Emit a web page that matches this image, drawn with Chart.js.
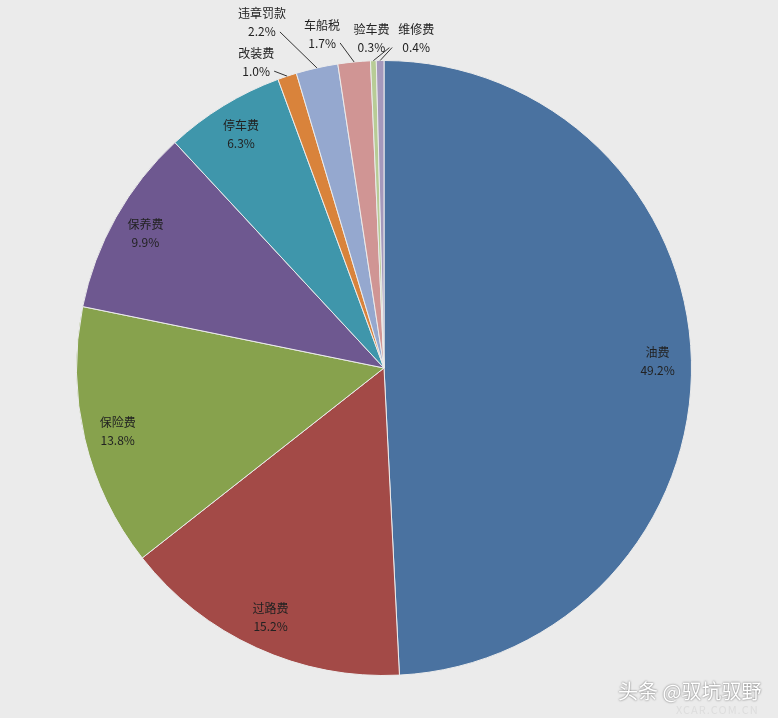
<!DOCTYPE html>
<html><head><meta charset="utf-8">
<script src="https://cdn.jsdelivr.net/npm/chart.js@4"></script>
<style>html,body{margin:0;padding:0;background:#ebebeb;overflow:hidden}
#wrap{position:relative;width:778px;height:718px}
.wm{position:absolute;font-family:"Noto Sans CJK SC";color:#fff}
</style></head><body>
<div id="wrap"><canvas id="c" width="778" height="718"></canvas>
<div class="wm" style="left:618px;top:676px;font-size:20px;text-shadow:0 0 2px #555">头条 @驭坑驭野</div>
<div class="wm" style="left:676px;top:701px;font-size:11px;color:#ddd;letter-spacing:1px">XCAR.COM.CN</div>
</div>
<script>
const categories=["油费","过路费","保险费","保养费","停车费","改装费","违章罚款","车船税","验车费","维修费"];
const values=[49.2,15.2,13.8,9.9,6.3,1.0,2.2,1.7,0.3,0.4];
const colors=["#4a72a0","#a34a47","#87a24d","#6e5890","#3f96ab","#d9833b","#95a8cf","#d09594","#b8cc96","#a599bc"];
// label placement: inside (null) or outside offset from arc edge
const outsideOffsets=[null,null,null,null,null,[-31,-14],[-55,-45],[-32,-28],[-2,-22],[36,-22]];
const labelPlugin={id:'lbl',afterDatasetsDraw(chart){
 const ctx=chart.ctx;const meta=chart.getDatasetMeta(0);
 ctx.save();ctx.font='12px "Noto Sans CJK SC"';ctx.fillStyle='#222';ctx.textAlign='center';ctx.textBaseline='middle';
 meta.data.forEach((arc,i)=>{
  const a=(arc.startAngle+arc.endAngle)/2;const txt=values[i].toFixed(1)+'%';
  const off=outsideOffsets[i];
  if(!off){const r=arc.outerRadius*0.89;const x=arc.x+Math.cos(a)*r,y=arc.y+Math.sin(a)*r;
   ctx.fillText(categories[i],x,y-9);ctx.fillText(txt,x,y+9);}
  else{const ex=arc.x+Math.cos(a)*arc.outerRadius,ey=arc.y+Math.sin(a)*arc.outerRadius;
   const lx=ex+off[0],ly=ey+off[1];
   ctx.fillText(categories[i],lx,ly-9);ctx.fillText(txt,lx,ly+9);
   ctx.strokeStyle='#333';ctx.lineWidth=1;ctx.beginPath();
   const sx=off[0]<0?lx+Math.min(18,Math.abs(off[0])-4):lx-22;
   ctx.moveTo(off[0]<0?lx+18:lx-24,ly+9);ctx.lineTo(ex,ey);ctx.stroke();}
 });ctx.restore();}};
new Chart(document.getElementById('c'),{type:'pie',
 data:{labels:categories,datasets:[{data:values,backgroundColor:colors,borderColor:'#ebebeb',borderWidth:1}]},
 options:{responsive:false,animation:false,layout:{padding:{top:60,bottom:42,left:76,right:86}},
  plugins:{legend:{display:false},tooltip:{enabled:false}}},
 plugins:[labelPlugin]});
</script></body></html>
